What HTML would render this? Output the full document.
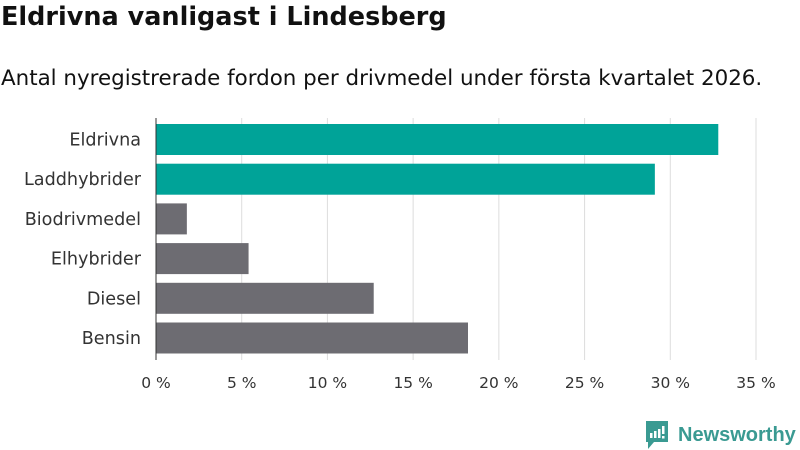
<!DOCTYPE html>
<html><head><meta charset="utf-8">
<style>
body{margin:0;width:800px;height:450px;background:#fff;font-family:"DejaVu Sans",sans-serif;overflow:hidden;position:relative}
#title{position:absolute;left:1px;top:2px;font-size:25.5px;font-weight:bold;color:#111}
#sub{position:absolute;left:1px;top:66px;font-size:21.4px;color:#111}
svg{position:absolute;left:0;top:0}
</style></head><body>
<div id="title">Eldrivna vanligast i Lindesberg</div>
<div id="sub">Antal nyregistrerade fordon per drivmedel under första kvartalet 2026.</div>
<svg id="chart" width="800" height="450"></svg>
<script>
const categories=["Eldrivna","Laddhybrider","Biodrivmedel","Elhybrider","Diesel","Bensin"];
const values=[32.8,29.1,1.8,5.4,12.7,18.2];
const highlight=[true,true,false,false,false,false];
const ticks=[0,5,10,15,20,25,30,35];
const svg=document.getElementById('chart');
const NS='http://www.w3.org/2000/svg';
const x0=156,x1=756,max=35,top0=120,step=39.7,bh=31;
const xs=v=>x0+(x1-x0)*v/max;
function mk(t,a){const e=document.createElementNS(NS,t);for(const k in a)e.setAttribute(k,a[k]);svg.appendChild(e);return e;}
ticks.forEach(t=>{
 const g=mk('line',{x1:xs(t),x2:xs(t),y1:118,y2:360,stroke:t===0?'#333':'#ddd','stroke-width':1});
 
 
 const l=mk('text',{x:xs(t),y:388,'text-anchor':'middle','font-size':15.5,fill:'#333','font-family':'DejaVu Sans, sans-serif'});
 l.textContent=t+' %';
 
 
});
categories.forEach((c,i)=>{
 const y=top0+4+i*step;
 const r=mk('rect',{x:x0,y:y,width:xs(values[i])-x0,height:bh,fill:highlight[i]?'#00a398':'#6d6c72'});
 
 
 const t=mk('text',{x:141,y:y+bh/2+6,'text-anchor':'end','font-size':17.6,fill:'#333','font-family':'DejaVu Sans, sans-serif'});
 t.textContent=c;
 
 
});
const ax=mk('line',{x1:x0,x2:x0,y1:118,y2:360,stroke:'#333'});


</script>
<svg width="800" height="450" style="pointer-events:none">
<path d="M646 421 h22 v21 h-14 l-6 7 v-7 h-2 z" fill="#3a9a92"/>
<rect x="650" y="433" width="2.5" height="5" fill="#fff"/><rect x="654" y="431" width="2.5" height="7" fill="#fff"/><rect x="658" y="429" width="2.5" height="9" fill="#fff"/><rect x="662" y="426" width="2.5" height="8" fill="#fff"/><rect x="662" y="436" width="2.5" height="2.5" fill="#fff"/>
<text x="678" y="441" font-size="20" font-weight="bold" fill="#3a9a92" font-family="Liberation Sans, sans-serif">Newsworthy</text>
</svg>
</body></html>
